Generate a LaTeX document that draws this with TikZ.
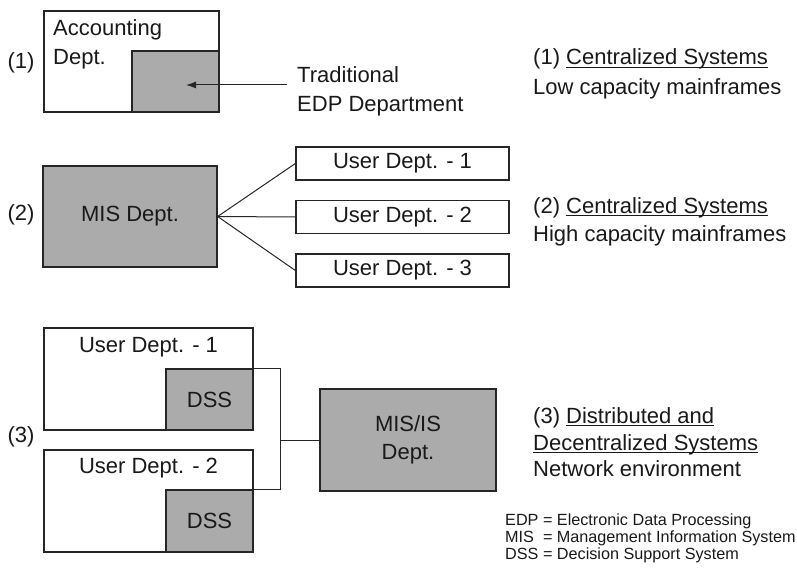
\documentclass[tikz,border=0pt]{standalone}
\usepackage{fontspec}
\setmainfont{Liberation Sans}
\usetikzlibrary{arrows.meta}
\newcommand\ulin[1]{\setbox0\hbox{#1}\rlap{\rule[-3pt]{\wd0}{1.3pt}}\box0}
\begin{document}
\begin{tikzpicture}[x=1pt,y=-1pt,
  bx/.style={draw=black!85, line width=1.3pt, rectangle, inner sep=0pt, fill=white},
  gbx/.style={bx, fill=black!33},
  txt/.style={font=\fontsize{22}{28}\selectfont, inner sep=0pt, text=black!90},
  lt/.style={txt, anchor=base west},
  sm/.style={font=\fontsize{16.2}{18}\selectfont, inner sep=0pt, anchor=base west, text=black!90},
  ln/.style={line width=1pt, draw=black!85}]
\useasboundingbox (0,0) rectangle (797,583);

% ---- (1)
\node[bx, minimum width=175pt, minimum height=101pt] (acc) at (131.5,61.5) {};
\node[gbx, minimum width=87pt, minimum height=61pt] (edp) at (175.5,81.5) {};
\node[lt] (acct1) at (53,36) {Accounting};
\node[lt] (acct2) at (53,65) {Dept.};
\node[lt] (trad1) at (297,83) {Traditional};
\node[lt] (trad2) at (297,111) {EDP Department};
\coordinate (arrs) at (287,85);
\coordinate (arre) at (186,85);
\draw[ln, -{Latex[length=10pt,width=7pt]}] (arrs) -- (arre);
\node[txt] (l1) at (21,63) {(1)};

% ---- (2)
\node[gbx, txt, minimum width=174pt, minimum height=101pt] (mis) at (130,216.5) {MIS Dept.};
\node[bx, txt, minimum width=213pt, minimum height=33pt] (u1) at (402.5,163.5) {User Dept. - 1};
\node[bx, txt, minimum width=213pt, minimum height=33pt] (u2) at (402.5,217) {User Dept. - 2};
\node[bx, txt, minimum width=213pt, minimum height=33pt] (u3) at (402.5,270.5) {User Dept. - 3};
\draw[ln] (mis.east) -- (u1.west);
\draw[ln] (mis.east) -- (u2.west);
\draw[ln] (mis.east) -- (u3.west);
\node[txt] (l2) at (21,215) {(2)};

% ---- (3)
\node[bx, minimum width=209pt, minimum height=102pt] (ud1) at (148.5,379) {};
\node[txt] (ud1t) at (148.5,347) {User Dept. - 1};
\node[gbx, txt, minimum width=87pt, minimum height=61pt] (dss1) at (209.5,399.5) {DSS};
\node[bx, minimum width=209pt, minimum height=102pt] (ud2) at (148.5,501) {};
\node[txt] (ud2t) at (148.5,468) {User Dept. - 2};
\node[gbx, txt, minimum width=87pt, minimum height=62pt] (dss2) at (209.5,521) {DSS};
\node[gbx, txt, minimum width=176pt, minimum height=102pt, align=center] (misis) at (408,440) {MIS/IS\\Dept.};
\coordinate (j) at (280,440);
\draw[ln] (dss1.north east) -- (dss1.north east -| j) -- (dss2.north east -| j) -- (dss2.north east);
\draw[ln] (j) -- (misis.west);
\node[txt] (l3) at (21,437) {(3)};

% ---- right column
\node[lt] (r1a) at (533,65) {(1) \ulin{Centralized Systems}};
\node[lt] (r1b) at (533,95) {Low capacity mainframes};
\node[lt] (r2a) at (533,213) {(2) \ulin{Centralized Systems}};
\node[lt] (r2b) at (533,241) {High capacity mainframes};
\node[lt] (r3a) at (533,423) {(3) \ulin{Distributed and}};
\node[lt] (r3b) at (533,450) {\ulin{Decentralized Systems}};
\node[lt] (r3c) at (533,476) {Network environment};

% ---- legend
\node[sm] (g1) at (505,525) {EDP = Electronic Data Processing};
\node[sm] (g2) at (505,542) {MIS\ \ = Management Information System};
\node[sm] (g3) at (505,559) {DSS = Decision Support System};
\end{tikzpicture}
\end{document}
